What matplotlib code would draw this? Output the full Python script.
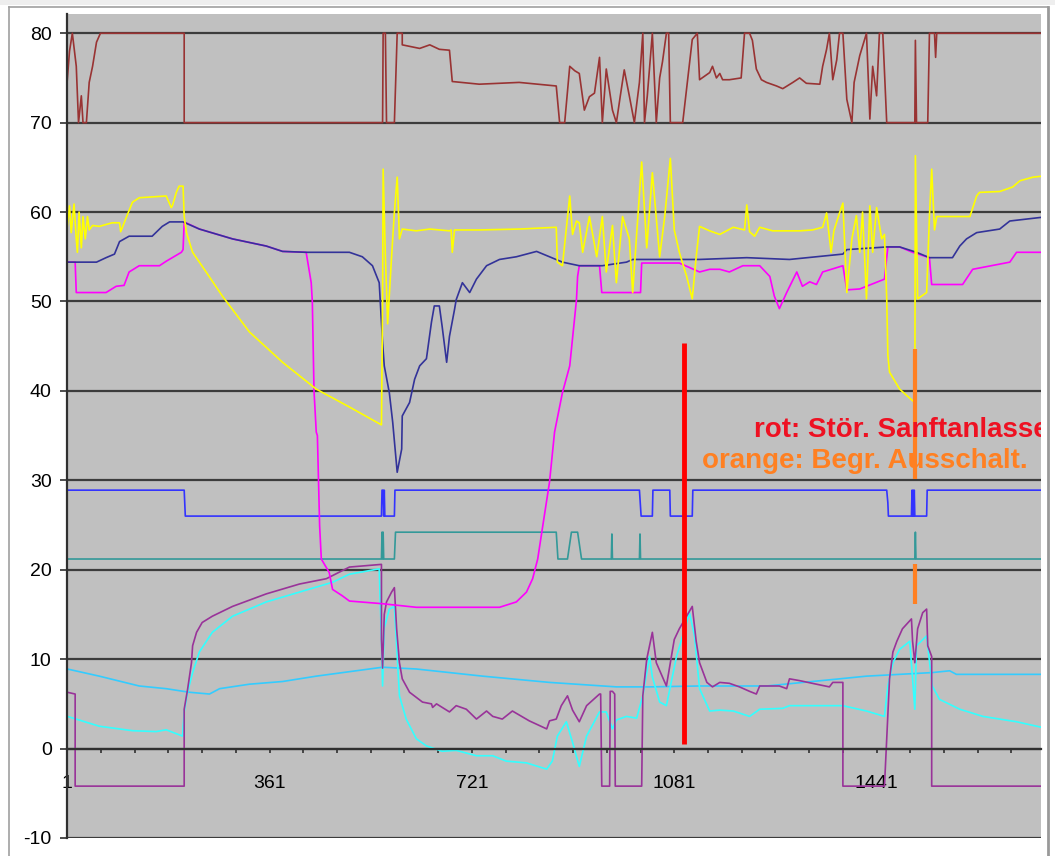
import matplotlib
matplotlib.use("Agg")
import matplotlib.pyplot as plt
from matplotlib.lines import Line2D
from matplotlib.patches import Rectangle

plt.rcParams['font.family'] = ['Liberation Sans', 'DejaVu Sans']
plt.rcParams['axes.unicode_minus'] = False

# --- measured series (sample index, value) ---
dr_x = [1, 5, 10, 17, 21, 26, 29, 35, 40, 46, 53, 60, 209, 209, 562, 563, 567, 569, 583, 588, 597, 597,
        628, 646, 663, 681, 686, 734, 805, 871, 877, 886, 895, 904, 912, 921, 930, 939, 948, 953, 960,
        971, 978, 985, 992, 1001, 1010, 1019, 1025, 1028, 1033, 1042, 1049, 1055, 1060, 1067, 1071,
        1074, 1096, 1113, 1122, 1126, 1144, 1149, 1156, 1162, 1167, 1179, 1200, 1206, 1215, 1220,
        1227, 1236, 1245, 1263, 1274, 1292, 1304, 1316, 1340, 1345, 1352, 1357, 1363, 1370, 1375,
        1381, 1388, 1397, 1401, 1411, 1423, 1429, 1434, 1441, 1446, 1452, 1459, 1509, 1510, 1512,
        1532, 1535, 1544, 1546, 1548, 1733]
dr_y = [74.8, 78, 80, 76.3, 70, 73, 70, 70, 74.5, 76.3, 79, 80, 80, 70, 70, 80, 80, 70, 70, 80, 80, 78.7,
        78.3, 78.7, 78.2, 78.1, 74.6, 74.3, 74.5, 74.1, 70, 70, 76.3, 75.8, 75.5, 71.4, 72.9, 73.3,
        77.3, 70, 76, 71.4, 70, 73, 75.9, 73, 70, 74.5, 80, 70, 73, 80, 70, 75, 76.8, 80, 80,
        70, 70, 79.3, 80, 74.8, 75.6, 76.3, 75, 75.5, 74.8, 74.8, 75, 80, 80, 79.2,
        76, 74.8, 74.5, 74.1, 73.8, 74.5, 75, 74.4, 74.3, 76.3, 78.2, 80, 74.8, 77, 80,
        80, 72.6, 70, 74.5, 77.5, 80, 70.4, 76.3, 73, 80, 80, 70, 70, 79.2, 70,
        70, 80, 80, 77.3, 80, 80]

ye_x = [1, 5, 8, 13, 17, 19, 22, 26, 29, 33, 37, 40, 46, 58, 81, 94, 96, 106, 117, 129, 177, 186, 188,
        195, 200, 207, 209, 213, 224, 248, 277, 325, 384, 444, 503, 560, 562, 563, 567, 571, 578, 583,
        588, 592, 597, 622, 646, 681, 684, 686, 690, 734, 805, 871, 873, 882, 895, 900, 907, 912, 918,
        930, 943, 953, 960, 971, 978, 989, 1001, 1007, 1014, 1023, 1032, 1042, 1055, 1064, 1074, 1081,
        1090, 1103, 1113, 1120, 1126, 1144, 1162, 1186, 1206, 1210, 1215, 1224, 1233, 1256, 1304, 1327,
        1345, 1352, 1360, 1365, 1375, 1381, 1388, 1397, 1405, 1411, 1416, 1423, 1429, 1434, 1441, 1450,
        1455, 1459, 1461, 1464, 1482, 1505, 1509, 1510, 1514, 1530, 1535, 1539, 1544, 1548, 1607, 1619,
        1624, 1660, 1683, 1696, 1719, 1733]
ye_y = [58.4, 60.7, 57.7, 60.9, 57, 55.5, 60, 56, 59.5, 57, 59.5, 58, 58.5, 58.4, 58.8, 58.8, 57.8, 59.4,
        61.1, 61.6, 61.8, 60.5, 60.7, 62.2, 62.9, 62.9, 59.5, 57.7, 55.5, 53.3, 50.6, 46.6, 43.2, 40.2,
        38.2, 36.2, 50, 64.8, 55, 47.5, 55, 60, 63.9, 57, 58.1, 57.9, 58.1, 57.9, 58, 55.5, 58, 58,
        58.1, 58.3, 54.4, 54, 61.8, 57.5, 59, 58.8, 55.5, 59.5, 55, 59.5, 53.3, 58.5, 52.1, 59.5, 57,
        51, 57.5, 65.6, 56, 64.4, 55, 59.5, 66, 58, 55.5, 52.8, 50.3, 55, 58.4, 57.9, 57.5, 58.3, 58,
        60.8, 57.8, 57.3, 58.3, 57.9, 57.9, 58, 58.3, 59.9, 55.5, 57.9, 59.9, 61, 51, 57, 59.6, 55.5,
        60, 50.3, 60.7, 55.5, 60.5, 57, 57.5, 50.3, 44, 42.1, 40.2, 38.9, 38.7, 66.3, 50.3, 51, 59.5,
        64.8, 58, 59.5, 59.5, 61.8, 62.2, 62.3, 62.8, 63.5, 63.9, 64]

nv_x = [1, 53, 70, 85, 94, 111, 152, 170, 183, 207, 236, 295, 355, 384, 426, 503, 526, 544, 556, 562,
        565, 574, 580, 588, 596, 597, 610, 619, 628, 640, 649, 654, 663, 668, 676, 681, 690, 693, 704,
        717, 729, 747, 770, 800, 836, 859, 882, 912, 953, 996, 1007, 1126, 1210, 1286, 1381, 1388,
        1459, 1482, 1512, 1535, 1576, 1589, 1601, 1619, 1660, 1678, 1733]
nv_y = [54.4, 54.4, 54.9, 55.3, 56.7, 57.3, 57.3, 58.4, 58.9, 58.9, 58.1, 57, 56.2, 55.6, 55.5, 55.5, 55,
        54, 52.1, 45.4, 42.8, 39.8, 36.5, 30.9, 33.5, 37.2, 38.7, 41.3, 42.8, 43.6, 47.7, 49.5, 49.5,
        47.2, 43.2, 46.1, 49.1, 50.2, 52.1, 51, 52.5, 54, 54.7, 55, 55.6, 55, 54.4, 54, 54, 54.4,
        54.7, 54.7, 54.9, 54.7, 55.3, 55.8, 56.1, 56.1, 55.5, 54.9, 54.9, 56.2, 57, 57.7, 58.1, 59,
        59.4]

mg_x = [1, 15, 17, 70, 88, 102, 111, 129, 165, 177, 204, 207, 209, 236, 295, 355, 384, 426, 435, 437,
        440, 444, 446, 450, 453, 467, 473, 490, 503, 562, 622, 770, 800, 818, 829, 838, 847, 859, 868,
        882, 895, 907, 909, 912, 948, 952, 1021, 1023, 1090, 1126, 1144, 1162, 1179, 1203, 1233, 1251,
        1259, 1268, 1281, 1299, 1309, 1322, 1334, 1345, 1381, 1388, 1411, 1455, 1461, 1482, 1505,
        1535, 1539, 1594, 1612, 1678, 1690, 1733]
mg_y = [54.4, 54.4, 51, 51, 51.7, 51.8, 53.3, 54, 54, 54.5, 55.5, 55.8, 58.9, 58.1, 57, 56.2, 55.6, 55.5,
        52.1, 50, 40, 35.4, 35, 24.9, 21.2, 19.7, 17.8, 17.1, 16.5, 16.2, 15.8, 15.8, 16.4, 17.5, 19,
        21.2, 24.9, 29.8, 35.4, 39.8, 42.8, 50.2, 52.8, 54, 54, 51, 51, 54.3, 54.3, 53.3, 53.6, 53.6,
        53.3, 54, 54, 52.8, 50.6, 49.2, 51, 53.3, 51.7, 52.2, 51.9, 53.3, 54, 51.3, 51.4, 52.5, 56.1,
        56.1, 55.5, 54.9, 51.9, 51.9, 53.6, 54.4, 55.5, 55.5]

bl_x = [1, 209, 211, 560, 561, 563, 564, 565, 566, 583, 584, 1019, 1022, 1042, 1043, 1073, 1074, 1113,
        1114, 1459, 1461, 1462, 1503, 1504, 1505, 1506, 1507, 1508, 1509, 1530, 1531, 1733]
bl_y = [28.9, 28.9, 26, 26, 28.9, 28.9, 26, 28.9, 26, 26, 28.9, 28.9, 26, 26, 28.9, 28.9, 26, 26,
        28.9, 28.9, 27.5, 26, 26, 28.9, 26, 28.9, 26, 28.9, 26, 26, 28.9, 28.9]

tl_x = [1, 560, 561, 562, 563, 564, 583, 585, 871, 874, 891, 898, 909, 916, 969, 970, 971, 1019, 1020,
        1021, 1509, 1510, 1511, 1733]
tl_y = [21.2, 21.2, 24.2, 21.2, 24.2, 21.2, 21.2, 24.2, 24.2, 21.2, 21.2, 24.2, 24.2, 21.2, 21.2, 24,
        21.2, 21.2, 24, 21.2, 21.2, 24.2, 21.2, 21.2]

pu_x = [1, 15, 15, 209, 209, 215, 222, 224, 231, 241, 259, 295, 355, 414, 462, 503, 560, 560, 562, 565,
        569, 578, 583, 587, 592, 597, 610, 633, 649, 651, 658, 681, 693, 711, 729, 747, 758, 775, 793,
        823, 854, 859, 871, 880, 891, 900, 912, 925, 948, 950, 952, 966, 967, 971, 975, 976, 1023,
        1025, 1032, 1042, 1049, 1067, 1081, 1090, 1113, 1120, 1126, 1139, 1149, 1162, 1179, 1197,
        1215, 1227, 1233, 1268, 1281, 1286, 1304, 1334, 1357, 1363, 1381, 1381, 1455, 1459, 1464,
        1470, 1477, 1487, 1503, 1505, 1509, 1514, 1523, 1530, 1532, 1539, 1539, 1733]
pu_y = [6.3, 6.1, -4.2, -4.2, 4.4, 6.6, 9.6, 11.5, 13, 14.1, 14.8, 15.9, 17.3, 18.4, 19, 20.3, 20.6, 12.2,
        9, 15, 16.4, 17.5, 18, 13.4, 9.6, 7.8, 6.3, 5.2, 5, 4.6, 5, 4.1, 4.8, 4.4, 3.3, 4.2, 3.6, 3.3,
        4.2, 3.1, 2.2, 3.1, 3.3, 4.8, 5.9, 4.3, 3, 4.8, 6.1, 6.1, -4.2, -4.2, 6.4, 6.4, 6.1, -4.2, -4.2,
        5.9, 10, 13, 9.6, 7, 12.2, 13.4, 15.9, 12, 9.6, 7.4, 6.9, 7.4, 7.3, 6.9,
        6.4, 6.1, 7, 7, 6.7, 7.8, 7.6, 7.2, 6.9, 7.4, 7.4, -4.2, -4.2, 1.1, 7.8,
        10.8, 12, 13.4, 14.5, 12, 9.6, 13.4, 15.2, 15.6, 11.5, 10.3, -4.2, -4.2]

sk_x = [1, 58, 129, 177, 218, 254, 272, 325, 384, 444, 503, 562, 622, 740, 859, 978, 1037, 1126, 1245,
        1375, 1423, 1540, 1571, 1583, 1733]
sk_y = [8.9, 8.1, 7, 6.7, 6.3, 6.1, 6.7, 7.2, 7.5, 8.1, 8.6, 9.1, 8.9, 8.1, 7.4, 6.9, 6.9, 7, 7,
        7.8, 8.1, 8.5, 8.7, 8.3, 8.3]

cy_x = [1, 58, 117, 159, 177, 206, 209, 215, 224, 236, 259, 295, 355, 414, 473, 503, 556, 560, 562, 565,
        574, 583, 587, 592, 604, 622, 640, 668, 693, 729, 758, 782, 818, 854, 864, 873, 889, 900, 912,
        925, 948, 960, 971, 978, 996, 1014, 1025, 1037, 1042, 1055, 1067, 1085, 1096, 1108, 1117, 1126,
        1144, 1162, 1186, 1215, 1233, 1274, 1286, 1363, 1381, 1423, 1455, 1461, 1470, 1482, 1500,
        1509, 1512, 1530, 1540, 1553, 1589, 1630, 1690, 1733]
cy_y = [3.6, 2.5, 2, 1.9, 2.1, 1.4, 4.1, 6.3, 8.5, 10.8, 13, 14.8, 16.4, 17.5, 18.6, 19.5, 20.1, 12.2, 7,
        13.5, 15.6, 15.9, 11.5, 5.9, 3.3, 1.1, 0.3, -0.3, -0.2, -0.8, -0.8, -1.4, -1.6, -2.3, -1.4, 1.4,
        3, 0.7, -2, 1.4, 4.1, 4.1, 2.2, 3.2, 3.6, 3.4, 5.9, 10.3, 8, 5.2, 4.8, 10.3, 12.6, 15.2, 12.6,
        6.7, 4.2, 4.3, 4.2, 3.6, 4.4, 4.5, 4.8, 4.8, 4.8, 4.2, 3.6, 7, 9.6, 11.1, 12, 4.4, 11.5, 12.6,
        7, 5.5, 4.4, 3.6, 3, 2.4]

# event markers
rot_x, rot_lo, rot_hi = 1097.5, 0.5, 45.4
orange_x = 1509
orange_segs = [(30.1, 44.7), (16.2, 20.6)]

n_samples = 1733
x_ticks = list(range(1, n_samples, 60))
x_labels = [str(t) if (t - 1) % 360 == 0 else '' for t in x_ticks]
y_ticks = list(range(-10, 90, 10))

W, H = 1055, 856
fig = plt.figure(figsize=(W / 100, H / 100), dpi=100)
fig.patch.set_facecolor('white')

# window frame round the chart
fig.add_artist(Rectangle((0, 1 - 5 / H), 1, 5 / H, transform=fig.transFigure,
                         facecolor='#eeeeee', edgecolor='none'))
fig.add_artist(Line2D([9 / W, 1048 / W], [1 - 6.5 / H, 1 - 6.5 / H], transform=fig.transFigure,
                      color='#a0a0a0', lw=1.2))
fig.add_artist(Line2D([9 / W, 9 / W], [0, 1 - 6.5 / H], transform=fig.transFigure,
                      color='#a0a0a0', lw=1.2))
fig.add_artist(Line2D([1048 / W, 1048 / W], [0, 1 - 6.5 / H], transform=fig.transFigure,
                      color='#999999', lw=2))

ax = fig.add_axes([67 / W, 1 - 838 / H, (1041 - 67) / W, (838 - 14) / H])
ax.set_facecolor('#c0c0c0')
ax.set_xlim(0.5, n_samples + 0.5)
ax.set_ylim(-10, 82.15)

ax.set_yticks(y_ticks)
ax.yaxis.grid(True, color='#3c3c3c', lw=1.6)
ax.set_axisbelow(True)

ax.set_xticks(x_ticks)
ax.set_xticklabels(x_labels)

for s in ['top', 'right']:
    ax.spines[s].set_visible(False)
ax.spines['bottom'].set_position(('data', 0))
ax.spines['bottom'].set_color('#303030')
ax.spines['bottom'].set_linewidth(1.6)
ax.spines['left'].set_color('#303030')
ax.spines['left'].set_linewidth(1.6)

ax.tick_params(axis='y', direction='out', length=5, width=1.2, color='#303030',
               labelsize=14, pad=6, labelcolor='black')
ax.tick_params(axis='x', direction='out', length=3, width=1.2, color='#303030',
               labelsize=14, pad=16, labelcolor='black')

lw = 1.2
ax.plot(dr_x, dr_y, color='#993333', lw=lw)
ax.plot(sk_x, sk_y, color='#33ccff', lw=lw)
ax.plot(cy_x, cy_y, color='#33ffff', lw=lw)
ax.plot(pu_x, pu_y, color='#993399', lw=lw)
ax.plot(tl_x, tl_y, color='#339999', lw=lw)
ax.plot(bl_x, bl_y, color='#3333ff', lw=lw)
ax.plot(mg_x, mg_y, color='#ff00ff', lw=lw)
ax.plot(nv_x, nv_y, color='#333399', lw=lw)
ax.plot(ye_x, ye_y, color='#ffff00', lw=lw)

# the red label runs past the right edge of the plot area and is cut there
ax.text(1222, 34.9, 'rot: Stör. Sanftanlasser', color='#ee1122', fontsize=20,
        fontweight='bold', va='baseline', ha='left', clip_on=True)
ax.text(1129.5, 31.4, 'orange: Begr. Ausschalt.', color='#ff8022', fontsize=20,
        fontweight='bold', va='baseline', ha='left', clip_on=True)

ax.vlines(rot_x, rot_lo, rot_hi, color='#ff0000', lw=3.5)
for lo, hi in orange_segs:
    ax.vlines(orange_x, lo, hi, color='#ff8022', lw=3)

fig.savefig('out.png', dpi=100)
